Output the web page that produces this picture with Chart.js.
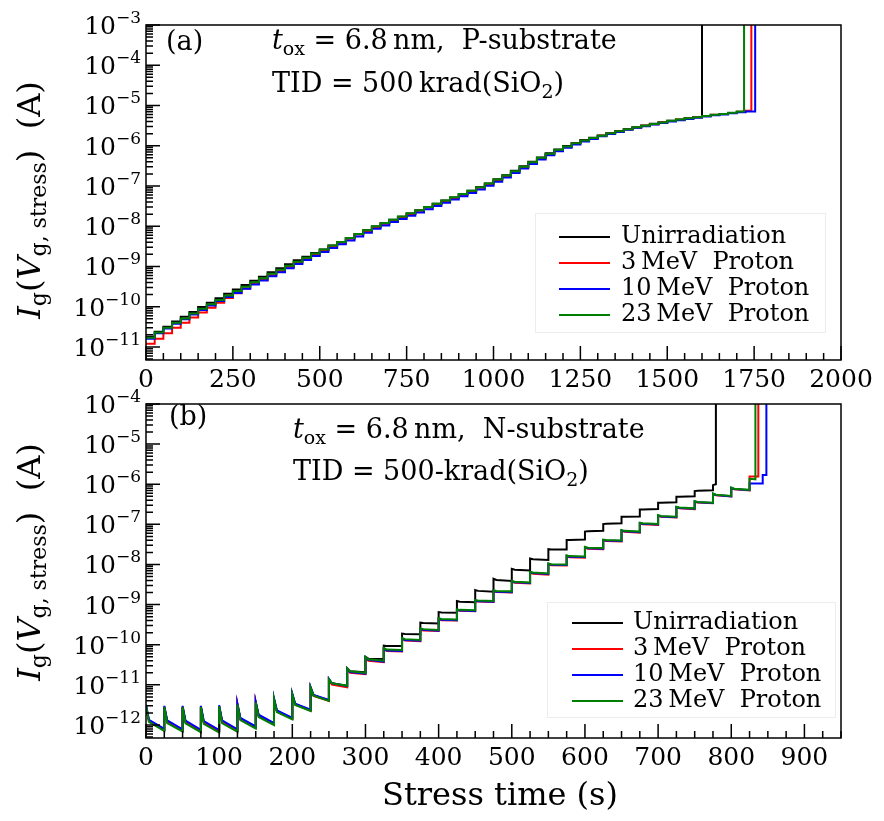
<!DOCTYPE html>
<html>
<head>
<meta charset="utf-8">
<script src="https://cdn.jsdelivr.net/npm/chart.js@4.4.0/dist/chart.umd.min.js"></script>
<style>
  html, body { margin: 0; padding: 0; background: #fff; }
  #wrap { position: relative; width: 884px; height: 821px; overflow: hidden; background: #fff; }
  canvas { position: absolute; left: 0; }
  #chartA { top: 0; }
  #chartB { top: 380px; }
</style>
</head>
<body>
<div id="wrap">
  <canvas id="chartA" width="884" height="400"></canvas>
  <canvas id="chartB" width="884" height="441"></canvas>
</div>
<script>
// ---------------- data ----------------
const seriesLabels = ['Unirradiation', '3\u2009MeV  Proton', '10\u2009MeV  Proton', '23\u2009MeV  Proton'];
const seriesColors = ['#000000', '#ff0000', '#0000ff', '#008000'];

// (a) P-substrate: gate current (A) held during each 25 s stress step
const timesA = [
  0, 25, 50, 75, 100, 125, 150, 175, 200, 225,
  250, 275, 300, 325, 350, 375, 400, 425, 450, 475,
  500, 525, 550, 575, 600, 625, 650, 675, 700, 725,
  750, 775, 800, 825, 850, 875, 900, 925, 950, 975,
  1000, 1025, 1050, 1075, 1100, 1125, 1150, 1175, 1200, 1225,
  1250, 1275, 1300, 1325, 1350, 1375, 1400, 1425, 1450, 1475,
  1500, 1525, 1550, 1575, 1600, 1625, 1650, 1675, 1700, 1725
];
const unirrA = [
  1.8e-11, 2.4e-11, 3.2e-11, 4.3e-11, 5.6e-11, 7.4e-11, 9.8e-11, 1.26e-10, 1.62e-10, 2.1e-10,
  2.7e-10, 3.45e-10, 4.4e-10, 5.6e-10, 7.2e-10, 9.0e-10, 1.13e-9, 1.42e-9, 1.75e-9, 2.15e-9,
  2.63e-9, 3.3e-9, 4.05e-9, 5.1e-9, 6.4e-9, 7.9e-9, 9.9e-9, 1.19e-8, 1.44e-8, 1.73e-8,
  2.08e-8, 2.5e-8, 3.0e-8, 3.6e-8, 4.35e-8, 5.2e-8, 6.3e-8, 7.6e-8, 9.4e-8, 1.16e-7,
  1.48e-7, 1.86e-7, 2.4e-7, 3.1e-7, 4.0e-7, 5.1e-7, 6.5e-7, 8.1e-7, 9.8e-7, 1.17e-6,
  1.38e-6, 1.58e-6, 1.8e-6, 2.06e-6, 2.32e-6, 2.6e-6, 2.9e-6, 3.2e-6, 3.5e-6, 3.85e-6,
  4.2e-6, 4.5e-6, 4.8e-6, 5.15e-6
];
const mev3A = [
  1.2e-11, 1.6e-11, 2.2e-11, 3.0e-11, 4.0e-11, 5.4e-11, 7.2e-11, 9.5e-11, 1.25e-10, 1.65e-10,
  2.15e-10, 2.85e-10, 3.7e-10, 4.7e-10, 6.1e-10, 7.7e-10, 9.8e-10, 1.24e-9, 1.56e-9, 1.97e-9,
  2.5e-9, 3.15e-9, 3.9e-9, 4.9e-9, 6.2e-9, 7.6e-9, 9.5e-9, 1.15e-8, 1.4e-8, 1.68e-8,
  2.02e-8, 2.43e-8, 2.92e-8, 3.5e-8, 4.2e-8, 5.05e-8, 6.1e-8, 7.3e-8, 9.0e-8, 1.11e-7,
  1.4e-7, 1.76e-7, 2.27e-7, 2.93e-7, 3.78e-7, 4.87e-7, 6.15e-7, 7.75e-7, 9.35e-7, 1.13e-6,
  1.33e-6, 1.53e-6, 1.76e-6, 2.02e-6, 2.27e-6, 2.55e-6, 2.85e-6, 3.13e-6, 3.44e-6, 3.77e-6,
  4.13e-6, 4.43e-6, 4.75e-6, 5.1e-6, 5.45e-6, 5.85e-6, 6.15e-6, 6.55e-6, 7.0e-6, 7.4e-6
];
const mev10A = [
  1.6e-11, 2.2e-11, 2.9e-11, 3.8e-11, 4.9e-11, 6.4e-11, 8.3e-11, 1.07e-10, 1.38e-10, 1.75e-10,
  2.2e-10, 2.8e-10, 3.55e-10, 4.5e-10, 5.75e-10, 7.2e-10, 9.1e-10, 1.15e-9, 1.45e-9, 1.82e-9,
  2.3e-9, 2.9e-9, 3.55e-9, 4.45e-9, 5.6e-9, 6.9e-9, 8.7e-9, 1.05e-8, 1.27e-8, 1.52e-8,
  1.83e-8, 2.2e-8, 2.65e-8, 3.2e-8, 3.85e-8, 4.6e-8, 5.55e-8, 6.7e-8, 8.2e-8, 1.01e-7,
  1.28e-7, 1.62e-7, 2.1e-7, 2.72e-7, 3.5e-7, 4.55e-7, 5.8e-7, 7.3e-7, 8.9e-7, 1.08e-6,
  1.28e-6, 1.48e-6, 1.71e-6, 1.96e-6, 2.21e-6, 2.48e-6, 2.78e-6, 3.06e-6, 3.36e-6, 3.68e-6,
  4.03e-6, 4.33e-6, 4.65e-6, 4.98e-6, 5.33e-6, 5.7e-6, 6.0e-6, 6.4e-6, 6.8e-6, 7.1e-6
];
const mev23A = [
  1.7e-11, 2.3e-11, 3.0e-11, 4.0e-11, 5.1e-11, 6.8e-11, 8.9e-11, 1.15e-10, 1.48e-10, 1.9e-10,
  2.45e-10, 3.16e-10, 4.07e-10, 5.13e-10, 6.6e-10, 8.3e-10, 1.05e-9, 1.32e-9, 1.66e-9, 2.09e-9,
  2.63e-9, 3.31e-9, 4.07e-9, 5.13e-9, 6.46e-9, 7.94e-9, 1.0e-8, 1.2e-8, 1.45e-8, 1.74e-8,
  2.09e-8, 2.51e-8, 3.02e-8, 3.63e-8, 4.37e-8, 5.25e-8, 6.31e-8, 7.59e-8, 9.33e-8, 1.15e-7,
  1.45e-7, 1.82e-7, 2.34e-7, 3.02e-7, 3.89e-7, 5.01e-7, 6.31e-7, 7.94e-7, 9.55e-7, 1.15e-6,
  1.35e-6, 1.55e-6, 1.78e-6, 2.04e-6, 2.29e-6, 2.57e-6, 2.88e-6, 3.16e-6, 3.47e-6, 3.8e-6,
  4.17e-6, 4.47e-6, 4.79e-6, 5.13e-6, 5.5e-6, 5.89e-6, 6.17e-6, 6.61e-6, 7.08e-6
];
const breakdownA = [1600, 1742, 1753, 1721];

// (b) N-substrate: current right after each step, 4 s into it, and at its end
const timesB = [
  0, 25, 50, 75, 100, 125, 150, 175, 200, 225,
  250, 275, 300, 325, 350, 375, 400, 425, 450, 475,
  500, 525, 550, 575, 600, 625, 650, 675, 700, 725,
  750, 775, 800, 825
];
const times10B = timesB.concat([843]);
const kneeDelayB = 4;

const unirrPeakB = [
  3.0e-12, 2.8e-12, 2.8e-12, 2.8e-12, 2.9e-12, 3.2e-12, 3.6e-12, 4.4e-12, 5.8e-12, 8.5e-12,
  1.4e-11, 2.6e-11, 5.0e-11, 9.5e-11, 1.9e-10, 3.55e-10, 6.5e-10, 1.23e-9, 2.3e-9, 4.4e-9,
  7.8e-9, 1.41e-8, 2.4e-8, 4.07e-8, 6.6e-8, 1.02e-7, 1.55e-7, 2.34e-7, 3.47e-7, 4.9e-7,
  6.76e-7, 9.5e-7
];
const unirrKneeB = [
  1.3e-12, 1.22e-12, 1.2e-12, 1.18e-12, 1.22e-12, 1.42e-12, 1.7e-12, 2.2e-12, 3.3e-12, 5.5e-12,
  1.1e-11, 2.2e-11, 4.5e-11, 9.3e-11, 1.86e-10, 3.47e-10, 6.4e-10, 1.18e-9, 2.2e-9, 4.1e-9,
  7.4e-9, 1.35e-8, 2.35e-8, 4.1e-8, 6.7e-8, 1.04e-7, 1.55e-7, 2.34e-7, 3.47e-7, 4.9e-7,
  6.9e-7, 1.0e-6
];
const unirrEndB = [
  7.8e-13, 7.5e-13, 7.3e-13, 7.2e-13, 7.5e-13, 8.8e-13, 1.1e-12, 1.48e-12, 2.35e-12, 4.1e-12,
  9.5e-12, 2.05e-11, 4.4e-11, 9.3e-11, 1.82e-10, 3.4e-10, 6.3e-10, 1.15e-9, 2.1e-9, 3.9e-9,
  7.1e-9, 1.29e-8, 2.35e-8, 4.17e-8, 6.9e-8, 1.07e-7, 1.58e-7, 2.4e-7, 3.55e-7, 5.0e-7,
  7.1e-7, 1.0e-6
];

const mev3PeakB = [
  2.9e-12, 2.8e-12, 2.8e-12, 2.8e-12, 2.9e-12, 3.2e-12, 3.6e-12, 4.3e-12, 5.6e-12, 8.2e-12,
  1.3e-11, 2.4e-11, 4.6e-11, 7.7e-11, 1.38e-10, 2.4e-10, 4.3e-10, 7.2e-10, 1.22e-9, 2.15e-9,
  3.7e-9, 6.2e-9, 1.0e-8, 1.6e-8, 2.6e-8, 3.95e-8, 6.9e-8, 1.05e-7, 1.63e-7, 2.65e-7,
  3.65e-7, 5.7e-7, 8.0e-7, 1.55e-6
];
const mev3KneeB = [
  1.25e-12, 1.2e-12, 1.18e-12, 1.15e-12, 1.2e-12, 1.4e-12, 1.65e-12, 2.15e-12, 3.2e-12, 5.3e-12,
  1.02e-11, 2.0e-11, 4.0e-11, 7.0e-11, 1.28e-10, 2.28e-10, 4.1e-10, 7.0e-10, 1.19e-9, 2.05e-9,
  3.5e-9, 5.9e-9, 9.6e-9, 1.52e-8, 2.48e-8, 3.85e-8, 6.5e-8, 1.01e-7, 1.55e-7, 2.52e-7,
  3.5e-7, 5.3e-7, 7.5e-7, 1.55e-6
];
const mev3EndB = [
  7.6e-13, 7.4e-13, 7.2e-13, 7.1e-13, 7.4e-13, 8.7e-13, 1.07e-12, 1.45e-12, 2.3e-12, 4.0e-12,
  8.7e-12, 1.85e-11, 3.7e-11, 6.8e-11, 1.22e-10, 2.2e-10, 4.0e-10, 6.8e-10, 1.16e-9, 2.0e-9,
  3.35e-9, 5.6e-9, 9.4e-9, 1.48e-8, 2.4e-8, 3.75e-8, 6.2e-8, 9.7e-8, 1.48e-7, 2.4e-7,
  3.35e-7, 4.95e-7, 7.0e-7, 1.55e-6
];

const mev10PeakB = [
  3.2e-12, 3.0e-12, 3.0e-12, 3.0e-12, 3.1e-12, 3.4e-12, 3.8e-12, 4.6e-12, 6.0e-12, 8.8e-12,
  1.4e-11, 2.5e-11, 4.8e-11, 7.9e-11, 1.42e-10, 2.48e-10, 4.4e-10, 7.4e-10, 1.25e-9, 2.2e-9,
  3.8e-9, 6.4e-9, 1.04e-8, 1.65e-8, 2.68e-8, 4.05e-8, 7.05e-8, 1.07e-7, 1.66e-7, 2.7e-7,
  3.72e-7, 5.8e-7, 8.1e-7, 1.05e-6, 1.7e-6
];
const mev10KneeB = [
  1.35e-12, 1.3e-12, 1.28e-12, 1.25e-12, 1.3e-12, 1.5e-12, 1.8e-12, 2.3e-12, 3.4e-12, 5.6e-12,
  1.1e-11, 2.1e-11, 4.2e-11, 7.2e-11, 1.32e-10, 2.35e-10, 4.2e-10, 7.1e-10, 1.21e-9, 2.1e-9,
  3.6e-9, 6.1e-9, 9.9e-9, 1.57e-8, 2.55e-8, 3.95e-8, 6.7e-8, 1.04e-7, 1.58e-7, 2.57e-7,
  3.55e-7, 5.4e-7, 7.6e-7, 1.05e-6, 1.7e-6
];
const mev10EndB = [
  8.0e-13, 7.8e-13, 7.6e-13, 7.5e-13, 7.8e-13, 9.2e-13, 1.12e-12, 1.5e-12, 2.4e-12, 4.2e-12,
  9.3e-12, 1.9e-11, 3.8e-11, 7.0e-11, 1.26e-10, 2.25e-10, 4.1e-10, 6.9e-10, 1.18e-9, 2.05e-9,
  3.45e-9, 5.8e-9, 9.7e-9, 1.53e-8, 2.48e-8, 3.85e-8, 6.4e-8, 9.9e-8, 1.5e-7, 2.45e-7,
  3.4e-7, 5.0e-7, 7.1e-7, 1.05e-6, 1.7e-6
];

const mev23PeakB = [
  3.0e-12, 2.8e-12, 2.8e-12, 2.8e-12, 2.95e-12, 3.24e-12, 3.63e-12, 4.37e-12, 5.75e-12, 8.5e-12,
  1.38e-11, 2.57e-11, 5.0e-11, 8.3e-11, 1.48e-10, 2.57e-10, 4.57e-10, 7.6e-10, 1.29e-9, 2.29e-9,
  3.9e-9, 6.6e-9, 1.07e-8, 1.7e-8, 2.75e-8, 4.17e-8, 7.25e-8, 1.1e-7, 1.7e-7, 2.75e-7,
  3.8e-7, 5.9e-7, 8.3e-7, 1.35e-6
];
const mev23KneeB = [
  1.2e-12, 1.12e-12, 1.1e-12, 1.07e-12, 1.12e-12, 1.32e-12, 1.58e-12, 2.09e-12, 3.16e-12, 5.4e-12,
  1.1e-11, 2.19e-11, 4.37e-11, 7.6e-11, 1.38e-10, 2.45e-10, 4.37e-10, 7.4e-10, 1.26e-9, 2.19e-9,
  3.72e-9, 6.3e-9, 1.02e-8, 1.62e-8, 2.63e-8, 4.07e-8, 6.9e-8, 1.07e-7, 1.62e-7, 2.63e-7,
  3.63e-7, 5.5e-7, 7.76e-7, 1.35e-6
];
const mev23EndB = [
  7.1e-13, 6.9e-13, 6.6e-13, 6.5e-13, 6.8e-13, 8.1e-13, 1.0e-12, 1.38e-12, 2.24e-12, 4.0e-12,
  9.5e-12, 2.0e-11, 4.0e-11, 7.4e-11, 1.32e-10, 2.34e-10, 4.27e-10, 7.25e-10, 1.23e-9, 2.14e-9,
  3.55e-9, 6.0e-9, 1.0e-8, 1.58e-8, 2.57e-8, 3.98e-8, 6.6e-8, 1.02e-7, 1.55e-7, 2.51e-7,
  3.47e-7, 5.13e-7, 7.25e-7, 1.32e-6
];
const breakdownB = [779, 837, 848, 833];

// current after breakdown, off the top of both panels
const complianceLevel = 1e-2;

// ---------------- helpers ----------------
const SERIF = '"DejaVu Serif", "Liberation Serif", serif';

function setFont(ctx, size, style) {
  ctx.font = (style ? style + ' ' : '') + size + 'px ' + SERIF;
}
const T = (text, size, style, dy) => ({ text, size, style, dy });

function drawRich(ctx, parts, x, y, align) {
  let w = 0;
  parts.forEach(p => { setFont(ctx, p.size, p.style); w += ctx.measureText(p.text).width; });
  let cx = align === 'center' ? x - w / 2 : align === 'right' ? x - w : x;
  ctx.textAlign = 'left';
  ctx.textBaseline = 'alphabetic';
  parts.forEach(p => {
    setFont(ctx, p.size, p.style);
    ctx.fillText(p.text, cx, y + (p.dy || 0));
    cx += ctx.measureText(p.text).width;
  });
}

// stepped trace: each level held until the next step, then the jump at breakdown
function stepPoints(times, levels, tBreak) {
  const pts = levels.map((v, i) => ({ x: times[i], y: v }));
  pts.push({ x: tBreak, y: levels[levels.length - 1] });
  pts.push({ x: tBreak, y: complianceLevel });
  return pts;
}

// pulsed trace: spike at each step, decay through the knee to the step end
function pulsePoints(times, peak, knee, end, tBreak) {
  const pts = [];
  peak.forEach((p, i) => {
    const t = times[i];
    const tNext = i + 1 < peak.length ? times[i + 1] : tBreak;
    pts.push({ x: t, y: p });
    if (t + kneeDelayB < tNext) pts.push({ x: t + kneeDelayB, y: knee[i] });
    pts.push({ x: tNext, y: end[i] });
  });
  pts.push({ x: tBreak, y: complianceLevel });
  return pts;
}

// ---------------- axes, labels, legend drawn around the plot ----------------
function decor(cfg) {
  return {
    id: 'decor',
    afterDatasetsDraw(chart) {
      const { ctx, chartArea: a, scales: { x, y } } = chart;
      ctx.save();
      ctx.fillStyle = '#000';

      // legend inside the axes
      const L = cfg.legend;
      ctx.fillStyle = '#fff';
      ctx.fillRect(L.box[0], L.box[1], L.box[2] - L.box[0], L.box[3] - L.box[1]);
      ctx.strokeStyle = '#ececec';
      ctx.lineWidth = 1;
      ctx.strokeRect(L.box[0] + 0.5, L.box[1] + 0.5, L.box[2] - L.box[0], L.box[3] - L.box[1]);
      chart.data.datasets.slice().sort((p, q) => p.legendIndex - q.legendIndex).forEach((ds, i) => {
        const ry = L.rowY + i * L.rowDY;
        ctx.strokeStyle = ds.borderColor;
        ctx.lineWidth = 2;
        ctx.beginPath();
        ctx.moveTo(L.line[0], ry);
        ctx.lineTo(L.line[1], ry);
        ctx.stroke();
        ctx.fillStyle = '#000';
        setFont(ctx, 24);
        ctx.textAlign = 'left';
        ctx.textBaseline = 'middle';
        ctx.fillText(ds.label, L.textX, ry);
      });

      // frame
      ctx.strokeStyle = '#000';
      ctx.lineWidth = 1.5;
      ctx.strokeRect(a.left, a.top, a.right - a.left, a.bottom - a.top);

      // x ticks (inward) + labels
      ctx.beginPath();
      for (let v = x.min; v <= x.max + 1e-6; v += cfg.xMinor) {
        const px = x.getPixelForValue(v);
        const major = Math.abs(v / cfg.xMajor - Math.round(v / cfg.xMajor)) < 1e-6;
        ctx.moveTo(px, a.bottom);
        ctx.lineTo(px, a.bottom - (major ? 14 : 7));
      }
      ctx.stroke();
      ctx.fillStyle = '#000';
      setFont(ctx, 25);
      ctx.textAlign = 'center';
      ctx.textBaseline = 'alphabetic';
      for (let v = x.min; v <= x.max + 1e-6; v += cfg.xMajor) {
        ctx.fillText(String(v), x.getPixelForValue(v), a.bottom + 27);
      }

      // y ticks (log, inward) + 10^n labels
      const eLo = Math.floor(Math.log10(y.min)), eHi = Math.ceil(Math.log10(y.max));
      ctx.beginPath();
      for (let e = eLo; e <= eHi; e++) {
        for (let k = 1; k <= 9; k++) {
          const v = k * Math.pow(10, e);
          if (v < y.min * 0.999 || v > y.max * 1.001) continue;
          const py = y.getPixelForValue(v);
          ctx.moveTo(a.left, py);
          ctx.lineTo(a.left + (k === 1 ? 14 : 7), py);
        }
      }
      ctx.stroke();
      for (let e = eLo; e <= eHi; e++) {
        const v = Math.pow(10, e);
        if (v < y.min * 0.999 || v > y.max * 1.001) continue;
        const py = y.getPixelForValue(v);
        drawRich(ctx, [T('10', 25), T('\u2212' + Math.abs(e), 17, '', -11)], a.left - 5, py + 9, 'right');
      }

      // panel tag and annotation text
      drawRich(ctx, cfg.tag.parts, cfg.tag.x, cfg.tag.y, 'left');
      cfg.notes.forEach(n => drawRich(ctx, n.parts, n.x, n.y, 'left'));

      // y title, rotated
      ctx.save();
      ctx.translate(40, cfg.yTitleY);
      ctx.rotate(-Math.PI / 2);
      drawRich(ctx, [
        T('I', 32, 'italic'), T('g', 22, '', 6), T('(', 32), T('V', 32, 'italic'),
        T('g, stress', 22, '', 6), T(')  (A)', 32)
      ], 0, 0, 'center');
      ctx.restore();

      if (cfg.xTitle) {
        drawRich(ctx, [T('Stress time (s)', 32)], cfg.xTitle.x, cfg.xTitle.y, 'center');
      }
      ctx.restore();
    }
  };
}

function makeChart(id, datasets, cfg) {
  return new Chart(document.getElementById(id), {
    type: 'line',
    data: { datasets },
    options: {
      responsive: false,
      animation: false,
      devicePixelRatio: 1,
      events: [],
      layout: { padding: cfg.padding },
      plugins: { legend: { display: false }, tooltip: { enabled: false } },
      scales: {
        x: { type: 'linear', min: cfg.xMin, max: cfg.xMax, display: false },
        y: { type: 'logarithmic', min: cfg.yMin, max: cfg.yMax, display: false }
      },
      elements: { point: { radius: 0 }, line: { borderWidth: 2, tension: 0 } }
    },
    plugins: [decor(cfg)]
  });
}

// green drawn on top, as in the figure
const drawOrder = [3, 2, 1, 0];

// ---------------- panel (a) ----------------
const levelsA = [unirrA, mev3A, mev10A, mev23A];
makeChart('chartA', levelsA.map((lv, i) => ({
  label: seriesLabels[i],
  legendIndex: i,
  data: stepPoints(timesA, lv, breakdownA[i]),
  borderColor: seriesColors[i],
  stepped: true,
  fill: false,
  order: drawOrder[i]
})), {
  padding: { left: 146, right: 43, top: 25, bottom: 40 },
  xMin: 0, xMax: 2000, xMajor: 250, xMinor: 50,
  yMin: 4.75e-12, yMax: 1e-3,
  yTitleY: 200,
  tag: { x: 166, y: 50, parts: [T('(a)', 27)] },
  notes: [
    { x: 272, y: 49, parts: [T('t', 27, 'italic'), T('ox', 19, '', 6), T(' = 6.8\u2009nm,  P-substrate', 27)] },
    { x: 272, y: 92, parts: [T('TID = 500\u2009krad(SiO', 27), T('2', 19, '', 6), T(')', 27)] }
  ],
  legend: { box: [535, 213, 825, 332], line: [559, 610], textX: 621, rowY: 237, rowDY: 26 },
  xTitle: null
});

// ---------------- panel (b) ----------------
const seriesB = [
  [timesB, unirrPeakB, unirrKneeB, unirrEndB],
  [timesB, mev3PeakB, mev3KneeB, mev3EndB],
  [times10B, mev10PeakB, mev10KneeB, mev10EndB],
  [timesB, mev23PeakB, mev23KneeB, mev23EndB]
];
makeChart('chartB', seriesB.map((s, i) => ({
  label: seriesLabels[i],
  legendIndex: i,
  data: pulsePoints(s[0], s[1], s[2], s[3], breakdownB[i]),
  borderColor: seriesColors[i],
  fill: false,
  order: drawOrder[i]
})), {
  padding: { left: 146, right: 43, top: 24, bottom: 83 },
  xMin: 0, xMax: 950, xMajor: 100, xMinor: 25,
  yMin: 4.74e-13, yMax: 1e-4,
  yTitleY: 182,
  tag: { x: 169, y: 45, parts: [T('(b)', 27)] },
  notes: [
    { x: 293, y: 58, parts: [T('t', 27, 'italic'), T('ox', 19, '', 6), T(' = 6.8\u2009nm,  N-substrate', 27)] },
    { x: 293, y: 100, parts: [T('TID = 500-krad(SiO', 27), T('2', 19, '', 6), T(')', 27)] }
  ],
  legend: { box: [547, 222, 835, 337], line: [572, 623], textX: 633, rowY: 243, rowDY: 26 },
  xTitle: { x: 500, y: 425 }
});
</script>
</body>
</html>
